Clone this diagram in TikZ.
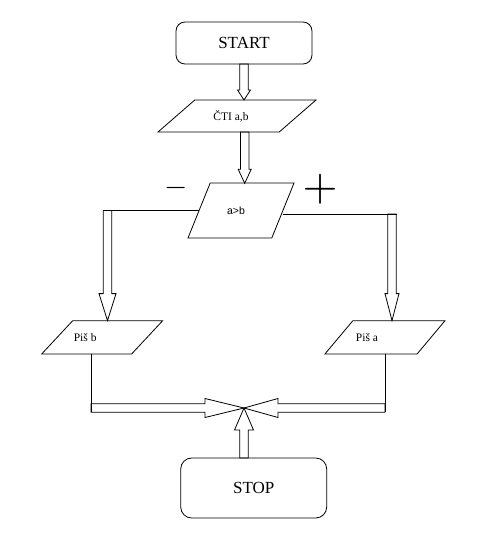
\documentclass[tikz,border=0pt]{standalone}
\usepackage{fontspec}
\setmainfont{Liberation Serif}
\newfontfamily\arialfont{Liberation Sans}
\usetikzlibrary{shapes.geometric,calc}
\tikzset{
    term-box/.style = {draw, rectangle, rounded corners=9pt, line width=0.8pt, inner sep=0pt, outer sep=0pt, font=\fontsize{17}{17}\selectfont},
    io-box/.style = {draw, trapezium, line width=0.8pt, outer sep=0pt, minimum size=0pt},
    io-text/.style = {font=\fontsize{11.5}{11.5}\selectfont, inner sep=0pt},
    sign/.style = {inner sep=0pt},
    flow-line/.style = {line width=0.8pt},
    block-arrow/.style 2 args = {line width=0.8pt, line join=miter, to path={
        ($(\tikztotarget)!#1!(\tikztostart)$) coordinate (ba-h)
        ($(\tikztostart)!4.2pt!90:(\tikztotarget)$) -- ($(ba-h)!4.2pt!-90:(\tikztostart)$)
        -- ($(ba-h)!#2!-90:(\tikztostart)$) -- (\tikztotarget) -- ($(ba-h)!#2!90:(\tikztostart)$)
        -- ($(ba-h)!4.2pt!90:(\tikztostart)$) -- ($(\tikztostart)!4.2pt!-90:(\tikztotarget)$) -- cycle
    }},
}

\begin{document}
\begin{tikzpicture}[x=1pt, y=-1pt]
\useasboundingbox (0,0) rectangle (484,559);

% terminals
\node[term-box, minimum width=136pt, minimum height=42pt] (start) at (244,43) {START};
\node[term-box, rounded corners=11pt, minimum width=146pt, minimum height=60pt] (stop) at (253.7,488) {STOP};

% input / output and decision
\node[io-box, trapezium left angle=41, trapezium right angle=139, inner xsep=42.2pt, inner ysep=16pt,
      label={[io-text, xshift=-6pt]center:{ČTI a,b}}] (read) at (237,116) {};
\node[io-box, trapezium left angle=68, trapezium right angle=112, inner xsep=30.8pt, inner ysep=27.5pt,
      label={[io-text, font=\arialfont\fontsize{10.5}{10.5}\selectfont, xshift=-5pt]center:{a>b}}] (test) at (241,210.5) {};
\node[io-box, trapezium left angle=47, trapezium right angle=133, inner xsep=29.45pt, inner ysep=16.65pt,
      label={[io-text, xshift=-17pt]center:{Piš b}}] (writeb) at (102.2,337.3) {};
\node[io-box, trapezium left angle=50, trapezium right angle=130, inner xsep=32.1pt, inner ysep=16.65pt,
      label={[io-text, xshift=-18pt]center:{Piš a}}] (writea) at (385,337.3) {};

% branch signs
\node[sign, scale=3] (no) at (176,188.3) {$-$};
\node[sign, scale=4.5] (yes) at (320,189) {$+$};

% turning points
\coordinate (l-turn) at (107.5,210.5);
\coordinate (r-turn) at (392,214);
\coordinate (l-foot) at (91,408);
\coordinate (r-foot) at (385,408);
\coordinate (meet) at (244,408);
\coordinate (top-in) at (244.7,183.3);

% connectors
\draw[block-arrow={10pt}{6.5pt}] (start.south) to (start.south |- read.north);
\draw[block-arrow={14pt}{6.5pt}] (read.south -| top-in) to (top-in);
\draw[flow-line] (test.west) -- ([xshift=-4.5pt]l-turn);
\draw[flow-line] ([yshift=-3.5pt]test.east) -- ([xshift=4.5pt]r-turn);
\draw[block-arrow={27pt}{8.5pt}] (l-turn) to (l-turn |- writeb.north);
\draw[block-arrow={27pt}{7pt}] (r-turn) to (r-turn |- writea.north);
\draw[flow-line] (l-foot |- writeb.south) -- ([yshift=-4pt]l-foot);
\draw[flow-line] (r-foot |- writea.south) -- ([yshift=-4pt]r-foot);
\draw[block-arrow={39pt}{9.5pt}] (l-foot) to (meet);
\draw[block-arrow={34pt}{9.5pt}] (r-foot) to (meet);
\draw[block-arrow={22pt}{9.5pt}] (stop.north -| meet) to (meet);
\end{tikzpicture}
\end{document}
